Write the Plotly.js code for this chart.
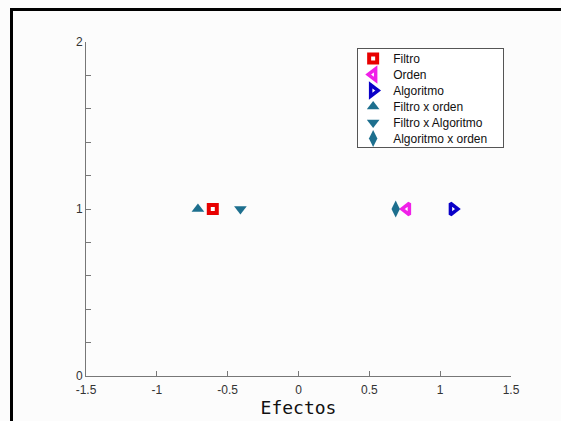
<!DOCTYPE html>
<html>
<head>
<meta charset="utf-8">
<script src="https://cdn.plot.ly/plotly-3.0.1.min.js"></script>
<style>
  html, body { margin: 0; padding: 0; background: #fcfcfc; }
  #frame { position: absolute; left: 10px; top: 8px; width: 560px; height: 420px;
           border-top: 3px solid #000; border-left: 3px solid #000; }
  #chart { position: absolute; left: 0; top: 0; width: 561px; height: 421px; }
</style>
</head>
<body>
<div id="frame"></div>
<div id="chart"></div>
<script>
// Data
const seriesNames = ["Filtro", "Orden", "Algoritmo", "Filtro x orden", "Filtro x Algoritmo", "Algoritmo x orden"];
const filtroX = [-0.605];
const ordenX = [0.765];
const algoritmoX = [1.09];
const filtroOrdenX = [-0.71];
const filtroAlgoritmoX = [-0.41];
const algoritmoOrdenX = [0.686];
const effectY = [1];

const yTickVals = [0, 0.2, 0.4, 0.6, 0.8, 1, 1.2, 1.4, 1.6, 1.8, 2];
const yTickText = ["0", "", "", "", "", "1", "", "", "", "", "2"];
const xTickVals = [-1.5, -1, -0.5, 0, 0.5, 1, 1.5];
const xTickText = ["-1.5", "-1", "-0.5", "0", "0.5", "1", "1.5"];

const teal = "#1d6f8e";
const traces = [
  {x: filtroX, y: effectY, name: seriesNames[0], mode: "markers",
   marker: {symbol: "square", size: 8, color: "#ffffff", line: {color: "#e80000", width: 4}}},
  {x: ordenX, y: effectY, name: seriesNames[1], mode: "markers",
   marker: {symbol: "triangle-left", size: 10, color: "#ffffff", line: {color: "#f020e8", width: 3.5}}},
  {x: algoritmoX, y: effectY, name: seriesNames[2], mode: "markers",
   marker: {symbol: "triangle-right", size: 10, color: "#ffffff", line: {color: "#0a00c8", width: 3.5}}},
  {x: filtroOrdenX, y: effectY, name: seriesNames[3], mode: "markers",
   marker: {symbol: "triangle-up", size: 11, color: teal}},
  {x: filtroAlgoritmoX, y: effectY, name: seriesNames[4], mode: "markers",
   marker: {symbol: "triangle-down", size: 11, color: teal}},
  {x: algoritmoOrdenX, y: effectY, name: seriesNames[5], mode: "markers",
   marker: {symbol: "diamond-tall", size: 12, color: teal}}
];

const layout = {
  width: 561, height: 421,
  margin: {l: 86, r: 50, t: 42, b: 45},
  paper_bgcolor: "rgba(0,0,0,0)",
  plot_bgcolor: "rgba(0,0,0,0)",
  font: {family: "Liberation Sans, Arial, sans-serif", size: 12, color: "#333"},
  showlegend: true,
  legend: {x: 0.638, y: 0.982, xanchor: "left", yanchor: "top",
           bordercolor: "#555", borderwidth: 1, bgcolor: "#ffffff",
           font: {size: 12, color: "#111"}, itemwidth: 30, tracegroupgap: 0},
  xaxis: {range: [-1.5, 1.5], tickmode: "array", tickvals: xTickVals, ticktext: xTickText,
          ticks: "inside", ticklen: 5, tickcolor: "#777", showgrid: false, zeroline: false,
          showline: true, linecolor: "#777", linewidth: 1, ticklabelstandoff: 3,
          title: {text: "Efectos", font: {family: "DejaVu Sans Mono, monospace", size: 18, color: "#111"}, standoff: 2}},
  yaxis: {range: [0, 2], tickmode: "array", tickvals: yTickVals, ticktext: yTickText,
          ticks: "inside", ticklen: 5, tickcolor: "#777", showgrid: false, zeroline: false,
          showline: true, linecolor: "#777", linewidth: 1, ticklabelstandoff: 0}
};

Plotly.newPlot("chart", traces, layout, {displayModeBar: false, staticPlot: true}).then(function (gd) {
  // tighten legend row spacing to match the reference
  const items = gd.querySelectorAll(".legend .traces");
  const step = 16, dx = -5;
  let y0 = null;
  items.forEach(function (g, i) {
    const t = g.getAttribute("transform") || "";
    const m = t.match(/translate\(\s*([-\d.]+)[ ,]+([-\d.]+)\s*\)/);
    if (!m) return;
    const x = parseFloat(m[1]), y = parseFloat(m[2]);
    if (y0 === null) y0 = y - 5;
    g.setAttribute("transform", "translate(" + (x + dx) + "," + (y0 + i * step) + ")");
  });
  const bg = gd.querySelector(".legend .bg");
  if (bg) { bg.setAttribute("height", 99); bg.setAttribute("width", 146); }
});
</script>
</body>
</html>
